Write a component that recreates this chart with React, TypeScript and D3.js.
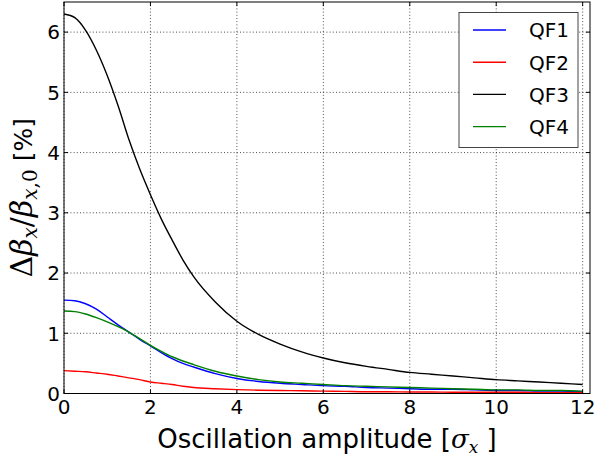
import React from "react";
import * as d3 from "d3";

const amplitude = [0, 0.25, 0.5, 0.75, 1, 1.25, 1.5, 1.75, 2, 2.25, 2.5, 2.75, 3, 3.5, 4, 4.5, 5, 5.5, 6, 6.5, 7, 7.5, 8, 8.5, 9, 9.5, 10, 10.5, 11, 11.5, 12];
const qf1 = [1.55, 1.54, 1.49, 1.40, 1.27, 1.14, 1.02, 0.90, 0.79, 0.68, 0.58, 0.50, 0.44, 0.33, 0.25, 0.20, 0.17, 0.15, 0.13, 0.12, 0.10, 0.09, 0.08, 0.07, 0.07, 0.06, 0.05, 0.05, 0.04, 0.04, 0.03];
const qf2 = [0.38, 0.37, 0.36, 0.34, 0.32, 0.29, 0.26, 0.23, 0.19, 0.17, 0.15, 0.12, 0.10, 0.08, 0.065, 0.055, 0.05, 0.045, 0.04, 0.035, 0.03, 0.03, 0.025, 0.025, 0.02, 0.02, 0.02, 0.02, 0.015, 0.015, 0.015];
const qf3 = [6.30, 6.24, 6.03, 5.70, 5.28, 4.78, 4.22, 3.73, 3.30, 2.90, 2.55, 2.22, 1.94, 1.52, 1.20, 0.98, 0.82, 0.69, 0.59, 0.51, 0.45, 0.40, 0.35, 0.32, 0.29, 0.26, 0.23, 0.21, 0.19, 0.17, 0.15];
const qf4 = [1.37, 1.36, 1.32, 1.26, 1.19, 1.11, 1.02, 0.91, 0.80, 0.70, 0.61, 0.54, 0.48, 0.37, 0.29, 0.23, 0.19, 0.17, 0.15, 0.13, 0.12, 0.11, 0.10, 0.09, 0.08, 0.07, 0.06, 0.06, 0.05, 0.05, 0.04];
const seriesNames = ["QF1", "QF2", "QF3", "QF4"];
const seriesColors = ["#0000ff", "#ff0000", "#000000", "#008000"];
const xTicks = [0, 2, 4, 6, 8, 10, 12];
const yTicks = [0, 1, 2, 3, 4, 5, 6];

const W = 602, H = 461;
const L = 64, R = 590, T = 2, B = 393.5;

export default function App() {
  const x = d3.scaleLinear().domain([0, 12.17]).range([L, R]);
  const y = d3.scaleLinear().domain([0, 6.5]).range([B, T]);
  const all = [qf1, qf2, qf3, qf4];
  const line = d3.line<[number, number]>().x(d => x(d[0])).y(d => y(d[1])).curve(d3.curveMonotoneX);
  const font = "'DejaVu Sans', sans-serif";
  const serif = "'DejaVu Serif', serif";
  const tick = 4;
  return (
    <svg width={W} height={H} style={{ position: "absolute", left: 0, top: 0, background: "#fff" }}>
      <rect x={0} y={0} width={W} height={H} fill="#fff" />
      {xTicks.map(t => (
        <line key={"gx" + t} x1={x(t)} x2={x(t)} y1={T} y2={B} stroke="#000" strokeWidth={0.7} strokeDasharray="1,2.2" />
      ))}
      {yTicks.map(t => (
        <line key={"gy" + t} x1={L} x2={R} y1={y(t)} y2={y(t)} stroke="#000" strokeWidth={0.7} strokeDasharray="1,2.2" />
      ))}
      <defs>
        <clipPath id="clip"><rect x={L} y={T} width={R - L} height={B - T} /></clipPath>
      </defs>
      <g clipPath="url(#clip)">
        {all.map((s, i) => (
          <path key={seriesNames[i]} d={line(amplitude.map((a, j) => [a, s[j]]))!} fill="none" stroke={seriesColors[i]} strokeWidth={1.4} />
        ))}
      </g>
      {xTicks.map(t => (
        <g key={"tx" + t}>
          <line x1={x(t)} x2={x(t)} y1={B} y2={B - tick} stroke="#000" strokeWidth={1} />
          <line x1={x(t)} x2={x(t)} y1={T} y2={T + tick} stroke="#000" strokeWidth={1} />
          <text x={x(t)} y={414} textAnchor="middle" fontFamily={font} fontSize={20}>{t}</text>
        </g>
      ))}
      {yTicks.map(t => (
        <g key={"ty" + t}>
          <line x1={L} x2={L + tick} y1={y(t)} y2={y(t)} stroke="#000" strokeWidth={1} />
          <line x1={R} x2={R - tick} y1={y(t)} y2={y(t)} stroke="#000" strokeWidth={1} />
          <text x={60} y={y(t) + 7.3} textAnchor="end" fontFamily={font} fontSize={20}>{t}</text>
        </g>
      ))}
      <rect x={L} y={T} width={R - L} height={B - T} fill="none" stroke="#000" strokeWidth={1} />
      <text x={(L + R) / 2} y={448} textAnchor="middle" fontFamily={font} fontSize={26}>
        Oscillation amplitude [<tspan fontFamily={serif} fontStyle="italic">σ</tspan><tspan fontFamily={serif} fontStyle="italic" fontSize={17} dy={5}>x</tspan><tspan dy={-5}> ]</tspan>
      </text>
      <text transform={`translate(32,${(T + B) / 2}) rotate(-90)`} textAnchor="middle" fontFamily={serif} fontSize={30}>
        <tspan>Δ</tspan><tspan fontStyle="italic">β</tspan><tspan fontStyle="italic" fontSize={20} dy={5}>x</tspan><tspan dy={-5}>/</tspan><tspan fontStyle="italic">β</tspan><tspan fontStyle="italic" fontSize={20} dy={5}>x</tspan><tspan fontSize={20}>,0</tspan><tspan dy={-5} fontFamily={font} fontSize={25}> [%]</tspan>
      </text>
      <rect x={459} y={12.5} width={119} height={135} fill="#fff" stroke="#444" strokeWidth={1} />
      {seriesNames.map((n, i) => (
        <g key={"lg" + n}>
          <line x1={473} x2={506} y1={30 + i * 32.2} y2={30 + i * 32.2} stroke={seriesColors[i]} strokeWidth={1.4} />
          <text x={529} y={30 + i * 32.2 + 7.3} fontFamily={font} fontSize={20}>{n}</text>
        </g>
      ))}
    </svg>
  );
}
